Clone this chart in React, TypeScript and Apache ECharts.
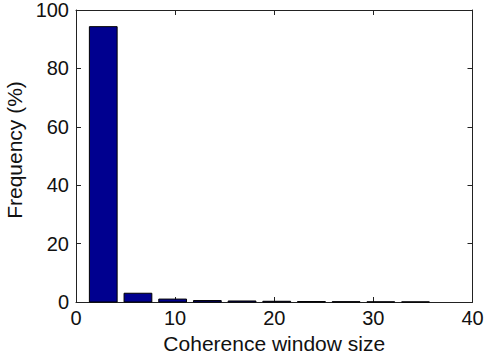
import React, { useEffect, useRef } from "react";
import * as echarts from "echarts";

// Histogram bins: centers along the coherence window size axis
const binCenters = [2.75, 6.25, 9.75, 13.25, 16.75, 20.25, 23.75, 27.25, 30.75, 34.25];
const frequencies = [94.3, 3.0, 1.0, 0.5, 0.35, 0.25, 0.15, 0.1, 0.05, 0.03];
const binWidth = 3.5;
const barFraction = 0.8;
const xTicks = [0, 10, 20, 30, 40];
const yTicks = [0, 20, 40, 60, 80, 100];

export default function App() {
  const ref = useRef<HTMLDivElement>(null);
  useEffect(() => {
    if (!ref.current) return;
    const chart = echarts.init(ref.current, undefined, { renderer: "svg" });
    const font = "'Liberation Sans', Arial, Helvetica, sans-serif";
    const lineStyle = { color: "#222", width: 1 };
    const frameX = (position: string, labelled: boolean) => ({
      type: "value",
      min: xTicks[0],
      max: xTicks[xTicks.length - 1],
      interval: 10,
      position,
      axisLine: { show: true, onZero: false, lineStyle },
      axisTick: { show: true, inside: true, length: 5, lineStyle },
      axisLabel: labelled
        ? { color: "#111", fontSize: 20, fontFamily: font, margin: 6 }
        : { show: false },
      splitLine: { show: false },
    });
    const frameY = (position: string, labelled: boolean) => ({
      type: "value",
      min: yTicks[0],
      max: yTicks[yTicks.length - 1],
      interval: 20,
      position,
      axisLine: { show: true, onZero: false, lineStyle },
      axisTick: { show: true, inside: true, length: 5, lineStyle },
      axisLabel: labelled
        ? { color: "#111", fontSize: 20, fontFamily: font, margin: 7 }
        : { show: false },
      splitLine: { show: false },
    });
    chart.setOption({
      animation: false,
      grid: {
        left: 76,
        right: 12.5,
        top: 10,
        bottom: 56,
        containLabel: false,
        outerBoundsMode: "none",
      },
      xAxis: [
        {
          ...frameX("bottom", true),
          name: "Coherence window size",
          nameLocation: "middle",
          nameGap: 30,
          nameTextStyle: { color: "#111", fontSize: 21, fontFamily: font },
        },
        frameX("top", false),
      ],
      yAxis: [
        {
          ...frameY("left", true),
          name: "Frequency (%)",
          nameLocation: "middle",
          nameGap: 50,
          nameTextStyle: { color: "#111", fontSize: 21, fontFamily: font, padding: [0, 0, 0, 12] },
        },
        frameY("right", false),
      ],
      series: [
        {
          type: "custom",
          xAxisIndex: 0,
          yAxisIndex: 0,
          data: binCenters.map((c, i) => [c, frequencies[i]]),
          renderItem: (params: any, api: any) => {
            const c = api.value(0);
            const v = api.value(1);
            const half = (binWidth * barFraction) / 2;
            const p0 = api.coord([c - half, v]);
            const p1 = api.coord([c + half, 0]);
            return {
              type: "rect",
              shape: { x: p0[0], y: p0[1], width: p1[0] - p0[0], height: p1[1] - p0[1] },
              style: { fill: "#00008F", stroke: "#000", lineWidth: 1 },
            };
          },
        },
      ],
    });
    return () => chart.dispose();
  }, []);
  return (
    <div
      ref={ref}
      style={{ position: "fixed", left: 0, top: 0, width: 485, height: 358, background: "#fff" }}
    />
  );
}
